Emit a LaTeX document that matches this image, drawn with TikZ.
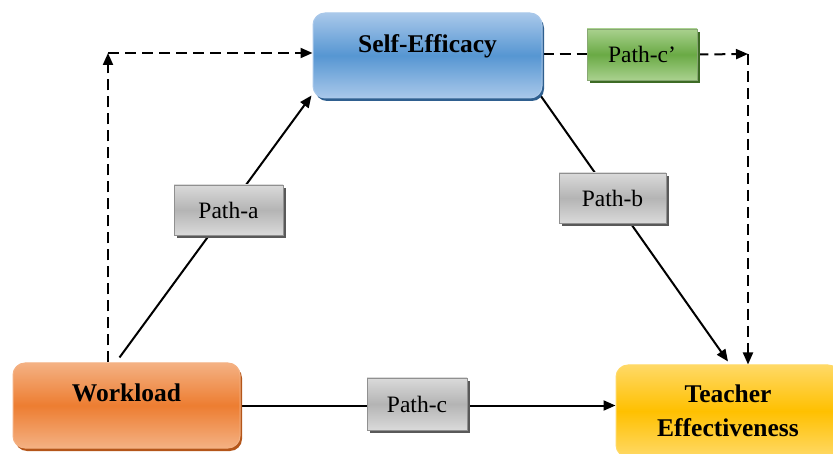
\documentclass[tikz,border=0pt]{standalone}
\usepackage{fontspec}
\setmainfont{Liberation Serif}
\usetikzlibrary{arrows.meta,shadows,calc}
\pgfdeclarelayer{background}
\pgfsetlayers{background,main}

% palette
\definecolor{seDark}{HTML}{5696D2}
\definecolor{seLight}{HTML}{A9C8EA}
\definecolor{seShadow}{HTML}{2F5F8F}
\definecolor{wlDark}{HTML}{ED7D31}
\definecolor{wlLight}{HTML}{F4B183}
\definecolor{wlShadow}{HTML}{B4561A}
\definecolor{teDark}{HTML}{FFC000}
\definecolor{teLight}{HTML}{FFD966}
\definecolor{pDark}{HTML}{B4B4B4}
\definecolor{pLight}{HTML}{DADADA}
\definecolor{pShadow}{HTML}{595959}
\definecolor{gDark}{HTML}{6AAA45}
\definecolor{gLight}{HTML}{A9D18E}
\definecolor{gShadow}{HTML}{3D6B25}

% label raised above the box centre, taking no room of its own
\newcommand{\upper}[2]{\raisebox{#1}[0pt][0pt]{#2}}

\tikzset{
  mainbox/.style={rounded corners=12pt, inner sep=0pt, align=center,
    font=\fontsize{25.5}{34}\selectfont\bfseries, line width=1pt},
  pathbox/.style={inner sep=0pt, font=\fontsize{23.5}{27}\selectfont,
    line width=0.8pt, draw=pDark!80!black,
    top color=pLight, bottom color=pLight, middle color=pDark,
    drop shadow={shadow xshift=3pt, shadow yshift=-3pt, fill=pShadow, opacity=1}},
  solidarrow/.style={line width=2pt, -{Triangle[length=12pt,width=10pt]}},
  dashedarrow/.style={line width=2pt, dash pattern=on 11pt off 6pt,
    -{Triangle[length=12pt,width=10pt]}},
  dashedline/.style={line width=2pt, dash pattern=on 11pt off 6pt},
}

\begin{document}
\begin{tikzpicture}[x=1pt,y=-1pt]
\useasboundingbox (0,0) rectangle (833,454);
\clip (0,0) rectangle (833,454);

% construct boxes
\node[mainbox, minimum width=229pt, minimum height=85pt,
  draw=seLight, top color=seLight, bottom color=seLight, middle color=seDark,
  drop shadow={shadow xshift=2pt, shadow yshift=-3pt, fill=seShadow, opacity=1}]
  (SE) at (427.5,55.5) {\upper{3pt}{Self-Efficacy}};
\node[mainbox, minimum width=227pt, minimum height=85pt,
  draw=wlLight, top color=wlLight, bottom color=wlLight, middle color=wlDark,
  drop shadow={shadow xshift=2pt, shadow yshift=-3pt, fill=wlShadow, opacity=1}]
  (WL) at (126.5,405.5) {\upper{4pt}{Workload}};
\node[mainbox, minimum width=224pt, minimum height=92pt,
  draw=teLight, top color=teLight, bottom color=teLight, middle color=teDark]
  (TE) at (728,411) {Teacher\\Effectiveness};

% path labels
\node[pathbox, minimum width=109pt, minimum height=50pt] (PA) at (228.5,210) {Path-a};
\node[pathbox, minimum width=107pt, minimum height=50pt] (PB) at (612.5,198) {Path-b};
\node[pathbox, minimum width=100pt, minimum height=52pt] (PC) at (417,404) {Path-c};
\node[pathbox, minimum width=110pt, minimum height=51pt, draw=gLight!80!black,
  top color=gLight, bottom color=gLight, middle color=gDark,
  drop shadow={shadow xshift=3pt, shadow yshift=-3pt, fill=gShadow, opacity=1}]
  (PCp) at (642,54.5) {Path-c’};

% corner points of the dashed routes
\coordinate (dl) at (108,53);
\coordinate (dr) at (748,54);

\begin{pgfonlayer}{background}
  % direct and mediated effects
  \draw[solidarrow] ($(WL.north west)+(107,-5)$) -- ($(SE.south west)+(-1,-3)$);
  \draw[solidarrow] ($(SE.south east)+(-2,-3)$) -- ($(TE.north)+(0,-3)$);
  \draw[solidarrow] (WL.east) -- (WL.east -| TE.west);
  % dashed route on the left
  \draw[dashedarrow] (WL.north -| dl) -- (dl);
  \draw[dashedarrow] (dl) -- (dl -| SE.west);
  % dashed route on the right
  \draw[dashedline] (SE.east |- PCp) -- (PCp.west);
  \draw[dashedarrow] (PCp.east) -- (dr);
  \draw[dashedarrow] (dr) -- (dr |- TE.north);
\end{pgfonlayer}
\end{tikzpicture}
\end{document}
